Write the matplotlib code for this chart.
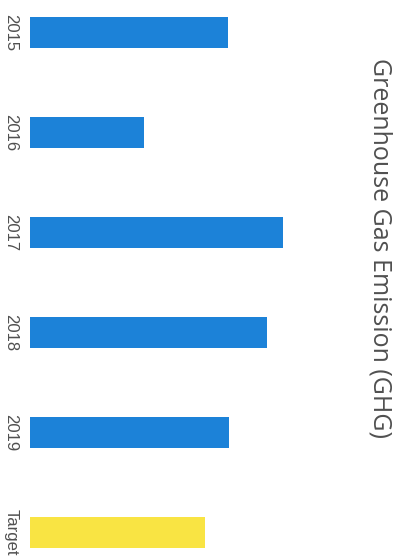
import matplotlib
matplotlib.use("Agg")
import matplotlib.pyplot as plt

categories = ["2015", "2016", "2017", "2018", "2019", "Target"]
values = [198.5, 114.5, 253.5, 237.5, 199.5, 175.5]
colors = ["#1C82D8"] * 5 + ["#F9E443"]
title = "Greenhouse Gas Emission (GHG)"

W, H = 409, 560
fig = plt.figure(figsize=(W / 100, H / 100), dpi=100)
ax = fig.add_axes([29.5 / W, 0, 320 / W, 1])
ax.barh(range(len(categories)), values, height=0.31, color=colors)
ax.set_xlim(0, 320)
ax.set_ylim(5.275, -0.325)
ax.set_yticks(range(len(categories)))
ax.set_yticklabels(categories, rotation=-90, va="center", fontsize=12,
                   color="#505050", family="Liberation Sans")
ax.tick_params(axis="y", length=0, pad=8)
ax.set_xticks([])
for s in ax.spines.values():
    s.set_visible(False)

fig.text(380 / W, 1 - 248 / H, title, rotation=-90, ha="center", va="center",
         fontsize=18, color="#505050", family="Open Sans")

fig.savefig("out.png", dpi=100)
